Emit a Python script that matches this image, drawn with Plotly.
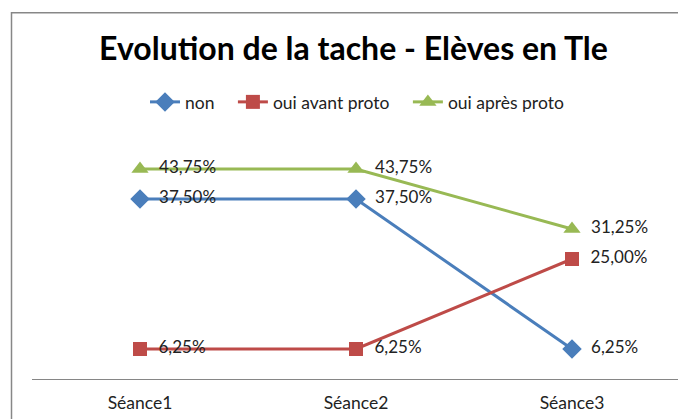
import plotly.graph_objects as go

seances = ["Séance1", "Séance2", "Séance3"]
non = [37.50, 37.50, 6.25]
oui_avant = [6.25, 6.25, 25.00]
oui_apres = [43.75, 43.75, 31.25]

series = [
    ("non\u00a0\u00a0\u00a0", non, "#4A7EBB", "diamond", 15),
    ("oui avant proto\u00a0\u00a0\u00a0", oui_avant, "#BE4B48", "square", 14),
    ("oui après proto", oui_apres, "#98B954", "triangle-up", 15),
]

fig = go.Figure()
for name, vals, col, sym, sz in series:
    fig.add_trace(go.Scatter(
        x=seances, y=vals, name=name,
        mode="lines+markers+text",
        line=dict(color=col, width=3),
        marker=dict(symbol=sym, size=sz, color=col),
        text=["\u00a0\u00a0" + f"{v:.2f}%".replace(".", ",") for v in vals],
        textposition="middle right",
        textfont=dict(size=17, color="#222222"),
        cliponaxis=False,
    ))

# the page body adds 8px on the left and top, so the figure is laid out 8px up-left
fig.update_layout(
    width=686, height=419,
    margin=dict(l=24, r=14, t=131, b=48, autoexpand=False),
    paper_bgcolor="white", plot_bgcolor="white",
    font=dict(family="Lato, Open Sans, sans-serif", color="#222222"),
    title=dict(text="<b>Evolution de la tache - Elèves en Tle</b>",
               x=345.5 / 686, xanchor="center", y=1 - 41 / 419, yanchor="middle",
               font=dict(size=32, color="black")),
    legend=dict(orientation="h", x=(349 - 24) / 648, xanchor="center", y=(371 - 94) / 240,
                yanchor="middle", font=dict(size=17.5), tracegroupgap=0),
    showlegend=True,
    xaxis=dict(showgrid=False, showline=True, linecolor="#868686", linewidth=1,
               ticks="", tickfont=dict(size=17.5), ticklabelstandoff=8, range=[-0.5, 2.5]),
    yaxis=dict(visible=False, range=[0, 50]),
    shapes=[dict(type="rect", xref="paper", yref="paper",
                 x0=(3.5 - 24) / 648, x1=(676 - 24) / 648, y0=-0.5, y1=(371 - 4.7) / 240,
                 line=dict(color="#878787", width=1.5))],
)

fig.write_html("out.html")
